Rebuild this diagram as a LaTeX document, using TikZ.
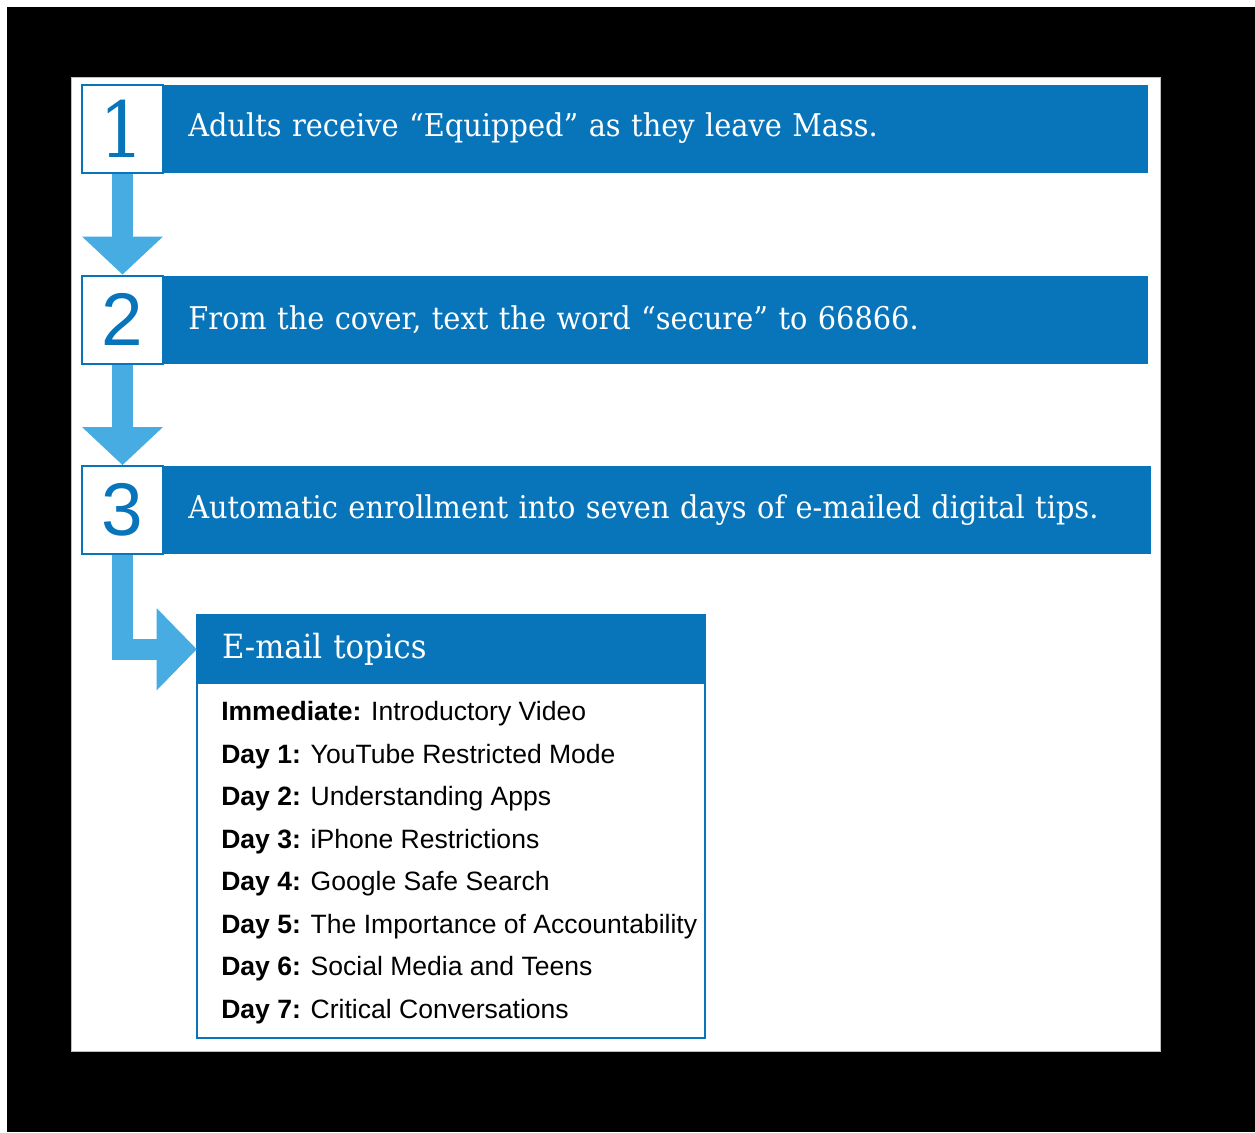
\documentclass[tikz,border=0pt]{standalone}
\usepackage{fontspec}
\usepackage{tikz}
\usetikzlibrary{arrows.meta}

\newfontfamily\slabfont[FakeStretch=0.92]{DejaVu Serif}
\newfontfamily\listfont{Liberation Sans}
\definecolor{stepblue}{RGB}{8,116,186}
\definecolor{arrowblue}{RGB}{70,172,226}

\tikzset{
	numbox/.style={draw=stepblue, line width=1.5pt, fill=white, minimum width=60.75pt, minimum height=66pt, inner sep=0pt, text=stepblue},
	stepbar/.style={fill=stepblue, text=white, minimum height=66pt, inner xsep=18pt, inner ysep=0pt, align=left, font=\slabfont\fontsize{23.5}{28}\selectfont},
	flowarrow/.style={draw=arrowblue, line width=15.75pt, -{Triangle[width=60.75pt,length=28.5pt,line width=0pt]}},
	topic/.style={anchor=base west, inner sep=0pt, font=\listfont\fontsize{19.9}{24}\selectfont},
}

\begin{document}
\begin{tikzpicture}[x=0.75pt,y=0.75pt,yscale=-1]
	\useasboundingbox (0,0) rectangle (1255,1132);
	
	%Shape: Background
	\fill[white] (0,0) rectangle (1255,1132);
	\fill[black] (7,7) rectangle (1255,1132);
	\draw[gray!50, line width=0.5pt, fill=white] (71,77) rectangle (1160,1051);
	
	%Step 1
	\node[numbox, font=\slabfont\fontsize{58}{60}\selectfont] (n1) at (122.5,128.5) {1};
	\node[stepbar, anchor=west, text width=702pt] (b1) at (n1.east) {Adults receive “Equipped” as they leave Mass.};
	%Step 2
	\node[numbox, font=\listfont\fontsize{56}{60}\selectfont] (n2) at (122.5,319.5) {2};
	\node[stepbar, anchor=west, text width=702pt] (b2) at (n2.east) {From the cover, text the word “secure” to 66866.};
	%Step 3
	\node[numbox, font=\listfont\fontsize{56}{60}\selectfont] (n3) at (122.5,510) {3};
	\node[stepbar, anchor=west, text width=704.25pt] (b3) at (n3.east) {Automatic enrollment into seven days of e-mailed digital tips.};
	
	%Shape: E-mail box
	\node[draw=stepblue, line width=1.5pt, minimum width=381pt, minimum height=317.25pt, inner sep=0pt] (mail) at (451,826.5) {};
	\node[stepbar, anchor=north, minimum width=381pt, minimum height=52.5pt, inner xsep=18.75pt, text width=343.5pt, font=\slabfont\fontsize{25}{28}\selectfont] (mhead) at (mail.north) {E-mail topics};
	
	%Arrows
	\draw[flowarrow] (n1.south) -- (n2.north);
	\draw[flowarrow] (n2.south) -- (n3.north);
	\draw[flowarrow, -{Triangle[width=61.5pt,length=30pt,line width=0pt]}] (n3.south) |- (mhead.west);
	
	% Text Node
	\node[topic] (t0) at (221,720.5) {\textbf{Immediate:} Introductory Video};
	% Text Node
	\node[topic] (t1) at (221,763) {\textbf{Day 1:} YouTube Restricted Mode};
	% Text Node
	\node[topic] (t2) at (221,805.5) {\textbf{Day 2:} Understanding Apps};
	% Text Node
	\node[topic] (t3) at (221,848) {\textbf{Day 3:} iPhone Restrictions};
	% Text Node
	\node[topic] (t4) at (221,890.5) {\textbf{Day 4:} Google Safe Search};
	% Text Node
	\node[topic] (t5) at (221,933) {\textbf{Day 5:} The Importance of Accountability};
	% Text Node
	\node[topic] (t6) at (221,975.5) {\textbf{Day 6:} Social Media and Teens};
	% Text Node
	\node[topic] (t7) at (221,1018) {\textbf{Day 7:} Critical Conversations};
	
\end{tikzpicture}
\end{document}
